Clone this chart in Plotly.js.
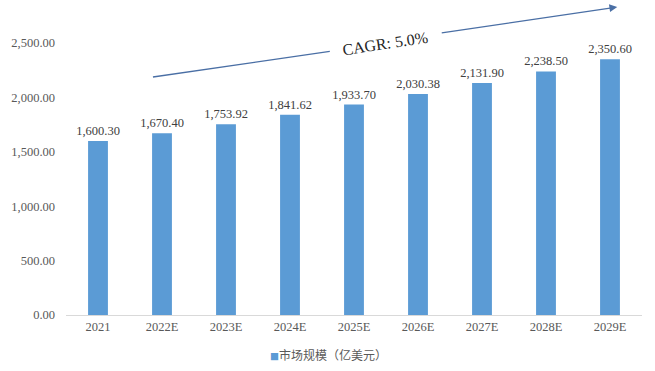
<!DOCTYPE html>
<html>
<head>
<meta charset="utf-8">
<script src="https://cdn.plot.ly/plotly-3.0.1.min.js"></script>
<style>html,body{margin:0;padding:0;background:#fff;}#chart{width:655px;height:371px;}</style>
</head>
<body>
<div id="chart"></div>
<script>
const categories = ["2021","2022E","2023E","2024E","2025E","2026E","2027E","2028E","2029E"];
const marketSize = [1600.30, 1670.40, 1753.92, 1841.62, 1933.70, 2030.38, 2131.90, 2238.50, 2350.60];
const seriesName = "市场规模（亿美元）";
const cagrLabel = "CAGR: 5.0%";

const serif = "'Times New Roman', 'Liberation Serif', serif";
const barColor = "#5B9BD5";

const trace = {
  type: "bar",
  x: categories,
  y: marketSize,
  name: seriesName,
  marker: {color: barColor},
  text: marketSize.map(v => v.toLocaleString("en-US", {minimumFractionDigits: 2, maximumFractionDigits: 2})),
  textposition: "outside",
  constraintext: "none",
  cliponaxis: false,
  textfont: {family: serif, size: 12.5, color: "#404040"},
  hoverinfo: "none",
  showlegend: false
};

const lineColor = "#4a6fa5";

const layout = {
  width: 655, height: 371,
  margin: {l: 66, r: 13, t: 43, b: 56},
  paper_bgcolor: "#fff", plot_bgcolor: "#fff",
  bargap: 0.69,
  showlegend: false,
  xaxis: {type: "category", showline: true, linecolor: "#d9d9d9", linewidth: 1,
    ticks: "", tickfont: {family: serif, size: 12.5, color: "#595959"}, showgrid: false, fixedrange: true},
  yaxis: {range: [0, 2500], dtick: 500, tickformat: ",.2f", showgrid: false, zeroline: false,
    showline: false, ticks: "", ticklabelstandoff: 10,
    tickfont: {family: serif, size: 12.5, color: "#595959"}, fixedrange: true},
  shapes: [
    {type: "line", xref: "paper", yref: "paper", x0: 0.151, y0: 0.875, x1: 0.458, y1: 0.969,
     line: {color: lineColor, width: 1.3}}
  ],
  annotations: [
    {xref: "paper", yref: "paper", x: 0.957, y: 1.132, ax: -177, ay: 26, showarrow: true,
     arrowhead: 2, arrowsize: 1.2, arrowwidth: 1.3, arrowcolor: lineColor, text: ""},
    {xref: "paper", yref: "paper", x: 0.554, y: 1.0, xanchor: "center", yanchor: "middle",
     showarrow: false, text: cagrLabel,
     textangle: -8.7, font: {family: serif, size: 16, color: "#262626"}},
    {xref: "paper", yref: "paper", x: 0.456, y: -0.147, xanchor: "center", yanchor: "middle",
     showarrow: false,
     text: '<span style="color:' + barColor + ';font-size:9px">■</span>' + seriesName,
     font: {family: "'Noto Sans CJK SC', sans-serif", size: 12, color: "#595959"}}
  ]
};

Plotly.newPlot("chart", [trace], layout, {displayModeBar: false, staticPlot: true});
</script>
</body>
</html>
